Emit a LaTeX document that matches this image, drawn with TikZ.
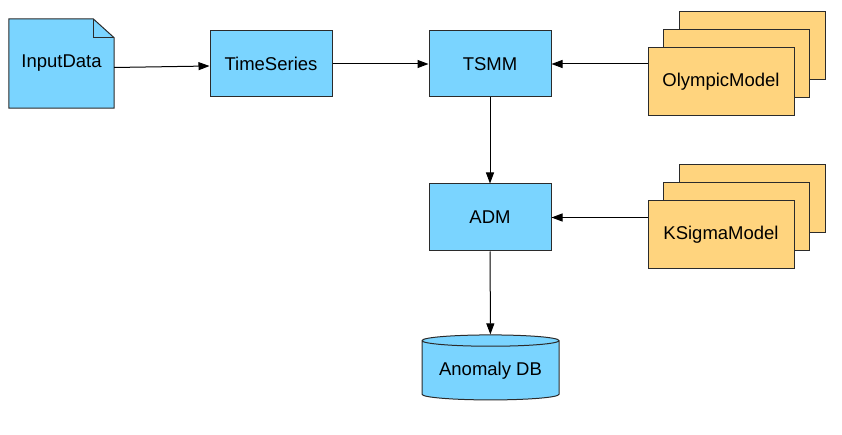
\documentclass[tikz,border=0pt]{standalone}
\usepackage{fontspec}
\setmainfont{Liberation Sans}
\usetikzlibrary{arrows.meta,shapes.geometric,shadows,backgrounds}

\definecolor{boxblue}{HTML}{7AD4FF}
\definecolor{modelorange}{HTML}{FFD47E}
\definecolor{border}{HTML}{2B2B2B}

\begin{document}
\begin{tikzpicture}[x=1pt, y=-1pt,
        font=\fontsize{18.5}{22}\selectfont,
        block/.style={rectangle, draw=border, fill=boxblue, line width=1pt,
            minimum width=122pt, minimum height=66pt, inner sep=0pt},
        model/.style={rectangle, draw=border, fill=modelorange, line width=1pt,
            minimum width=146pt, minimum height=68pt, inner sep=0pt,
            copy shadow={shadow xshift=31pt, shadow yshift=36pt, fill=modelorange, draw=border},
            copy shadow={shadow xshift=15.5pt, shadow yshift=18pt, fill=modelorange, draw=border}},
        flow/.style={-{Triangle[length=11pt,width=8pt]}, line width=1pt}]
        \useasboundingbox (0,0) rectangle (842,435);

        \node[minimum width=105pt, minimum height=89pt, inner sep=0pt] at (61.5, 63.5)(input){InputData};
        \begin{scope}[on background layer]
            \draw[draw=border, fill=boxblue, line width=1pt]
                (input.south west) -- (input.north west) -- ([xshift=-21pt]input.north east)
                -- ([yshift=-19pt]input.north east) -- (input.south east) -- cycle;
            \draw[draw=border, line width=1pt]
                ([xshift=-21pt]input.north east) -- ([xshift=-21pt, yshift=-19pt]input.north east)
                -- ([yshift=-19pt]input.north east);
        \end{scope}
        \node[block] at (271, 64)(ts){TimeSeries};
        \node[block] at (490, 64)(tsmm){TSMM};
        \node[block, minimum height=67pt] at (490, 217.5)(adm){ADM};
        \node[model] at (721, 82)(olympic){OlympicModel};
        \node[model] at (721, 234.5)(ksigma){KSigmaModel};
        \node[cylinder, shape border rotate=90, aspect=0.11, draw=border, fill=boxblue, line width=1pt,
            minimum width=137pt, minimum height=65pt, inner sep=0pt] at (490.5, 370.5)(db){Anomaly DB};

        \path[flow]
        ([yshift=-4pt]input.east)edge([yshift=-2pt]ts.west)
        (ts)edge(tsmm)
        (olympic.west |- tsmm)edge(tsmm)
        (tsmm)edge(adm)
        (ksigma.west |- adm)edge(adm)
        (adm)edge(db)
        ;
    \end{tikzpicture}
\end{document}
